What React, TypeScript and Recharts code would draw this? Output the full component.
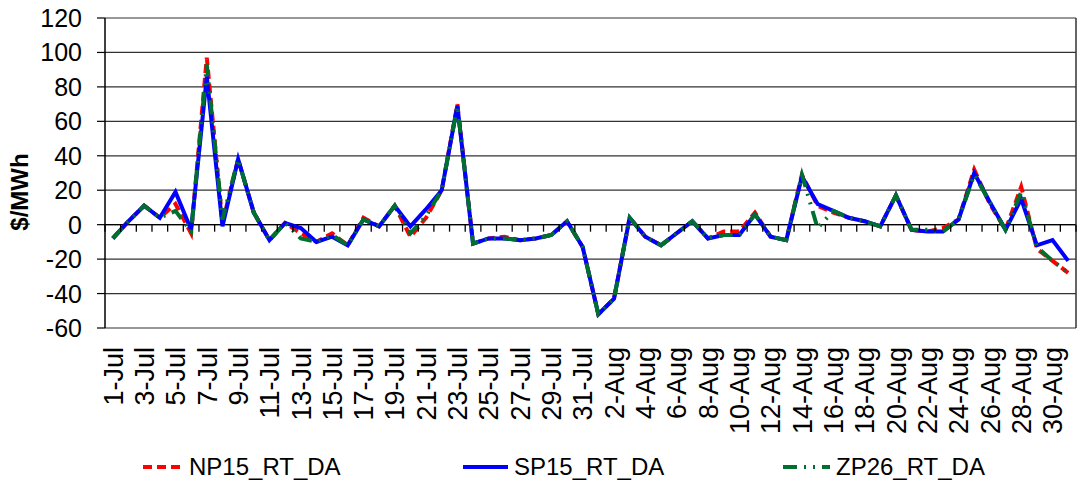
import { CartesianGrid, Line, LineChart, ReferenceLine, XAxis, YAxis } from "recharts";

const W = 1078;
const H = 485;
const PLOT_LEFT = 105;
const PLOT_TOP = 18;
const PLOT_RIGHT = 2;
const PLOT_BOTTOM = 157;
const FONT = "'Liberation Sans', Arial, sans-serif";

const DAYS = [
  "1-Jul", "2-Jul", "3-Jul", "4-Jul", "5-Jul", "6-Jul", "7-Jul", "8-Jul", "9-Jul", "10-Jul",
  "11-Jul", "12-Jul", "13-Jul", "14-Jul", "15-Jul", "16-Jul", "17-Jul", "18-Jul", "19-Jul", "20-Jul",
  "21-Jul", "22-Jul", "23-Jul", "24-Jul", "25-Jul", "26-Jul", "27-Jul", "28-Jul", "29-Jul", "30-Jul",
  "31-Jul", "1-Aug", "2-Aug", "3-Aug", "4-Aug", "5-Aug", "6-Aug", "7-Aug", "8-Aug", "9-Aug",
  "10-Aug", "11-Aug", "12-Aug", "13-Aug", "14-Aug", "15-Aug", "16-Aug", "17-Aug", "18-Aug", "19-Aug",
  "20-Aug", "21-Aug", "22-Aug", "23-Aug", "24-Aug", "25-Aug", "26-Aug", "27-Aug", "28-Aug", "29-Aug",
  "30-Aug", "31-Aug",
];

const NP15 = [
  -8, 2, 11, 4, 12, -5, 97, 1, 38, 7,
  -9, 1, -5, -10, -5, -12, 4, -1, 11, -7,
  4, 20, 70, -11, -8, -7, -9, -8, -6, 2,
  -13, -52, -43, 4, -7, -12, -5, 2, -8, -4,
  -4, 7, -7, -9, 29, 11, 7, 4, 2, -1,
  17, -3, -4, -2, 3, 32, 12, -3, 22, -14,
  -21, -28,
];

const SP15 = [
  -8, 2, 11, 4, 19, -3, 86, -1, 38, 7,
  -9, 1, -2, -10, -7, -12, 3, -1, 11, -1,
  9, 20, 69, -11, -8, -8, -9, -8, -6, 2,
  -13, -52, -43, 4, -7, -12, -5, 2, -8, -6,
  -6, 6, -7, -9, 28, 12, 8, 4, 2, -1,
  17, -3, -4, -4, 3, 30, 13, -3, 15, -12,
  -9, -21,
];

const ZP26 = [
  -8, 2, 11, 4, 8, -4, 93, 3, 38, 7,
  -9, 1, -8, -10, -6, -12, 3, -1, 11, -5,
  5, 20, 69, -11, -8, -8, -9, -8, -6, 2,
  -13, -52, -43, 4, -7, -12, -5, 2, -8, -6,
  -6, 6, -7, -9, 29, -2, 8, 4, 2, -1,
  17, -3, -3, -4, 3, 29, 13, -3, 19, -13,
  -21, -28,
];

const Y_TICKS = [-60, -40, -20, 0, 20, 40, 60, 80, 100, 120];
const Y_MIN = -60;
const Y_MAX = 120;

// drawn in this order: green on top of blue on top of red
const SERIES = [
  { key: "np15", name: "NP15_RT_DA", color: "#ff0000", dash: "9 5", values: NP15, legendX: 143, iconW: 40 },
  { key: "sp15", name: "SP15_RT_DA", color: "#0000ff", dash: undefined, values: SP15, legendX: 463, iconW: 45 },
  { key: "zp26", name: "ZP26_RT_DA", color: "#00702e", dash: "14 7 2 7 2 7", values: ZP26, legendX: 783, iconW: 47 },
];

const rows = DAYS.map((day, i) => {
  const row: Record<string, string | number> = { day };
  for (const s of SERIES) row[s.key] = s.values[i];
  return row;
});

const plotW = W - PLOT_LEFT - PLOT_RIGHT;
const plotH = H - PLOT_TOP - PLOT_BOTTOM;
const band = plotW / DAYS.length;
// category axis crosses the value axis at 0, labels sit below the plot
const zeroY = PLOT_TOP + (plotH * Y_MAX) / (Y_MAX - Y_MIN);
const plotBottomY = PLOT_TOP + plotH;

function DayTick(props: any) {
  const { x, payload, index } = props;
  const left = x - band / 2;
  return (
    <g>
      <line x1={left} x2={left} y1={zeroY} y2={zeroY + 7} stroke="#000" strokeWidth={1.3} />
      {index === DAYS.length - 1 && (
        <line x1={x + band / 2} x2={x + band / 2} y1={zeroY} y2={zeroY + 7} stroke="#000" strokeWidth={1.3} />
      )}
      {index % 2 === 0 && (
        <text
          transform={`translate(${x},${plotBottomY + 19}) rotate(-90)`}
          textAnchor="end"
          dy="0.36em"
          style={{ fontSize: 27, fontFamily: FONT }}
          fill="#000"
        >
          {payload.value}
        </text>
      )}
    </g>
  );
}

function ValueTick(props: any) {
  const { x, y, payload } = props;
  return (
    <text
      x={x}
      y={y}
      textAnchor="end"
      dy="0.36em"
      style={{ fontSize: 25, fontFamily: FONT }}
      fill="#000"
    >
      {payload.value}
    </text>
  );
}

function Legend() {
  return (
    <>
      {SERIES.map((s) => (
        <div
          key={s.key}
          style={{
            position: "absolute",
            left: s.legendX,
            top: 452,
            height: 30,
            display: "flex",
            alignItems: "center",
            fontFamily: FONT,
            fontSize: 24,
            color: "#000",
            whiteSpace: "nowrap",
          }}
        >
          <svg width={s.iconW} height={10} style={{ marginRight: 6 }}>
            <line
              x1={0}
              x2={s.iconW}
              y1={5}
              y2={5}
              stroke={s.color}
              strokeWidth={4}
              strokeDasharray={s.dash}
            />
          </svg>
          {s.name}
        </div>
      ))}
    </>
  );
}

export default function App() {
  return (
    <div style={{ position: "absolute", left: 0, top: 0, width: W, height: H, background: "#fff" }}>
      <LineChart
        width={W}
        height={H}
        data={rows}
        margin={{ top: PLOT_TOP, right: 0, bottom: 0, left: 0 }}
      >
        <CartesianGrid vertical={false} stroke="#333" strokeWidth={1.2} yAxisId="left" />
        <XAxis
          dataKey="day"
          interval={0}
          height={PLOT_BOTTOM}
          padding={{ left: band / 2, right: band / 2 }}
          tick={<DayTick />}
          tickLine={false}
          axisLine={false}
        />
        <YAxis
          yAxisId="left"
          domain={[Y_MIN, Y_MAX]}
          ticks={Y_TICKS}
          interval={0}
          width={PLOT_LEFT}
          tickSize={8}
          tickMargin={15}
          tick={<ValueTick />}
          tickLine={{ stroke: "#000", strokeWidth: 1.2 }}
          axisLine={{ stroke: "#000", strokeWidth: 1.5 }}
          label={{
            content: () => (
              <text
                transform="translate(19,192) rotate(-90)"
                textAnchor="middle"
                dy="0.36em"
                style={{ fontSize: 24, fontWeight: "bold", fontFamily: FONT }}
                fill="#000"
              >
                $/MWh
              </text>
            ),
          }}
        />
        <YAxis
          yAxisId="right"
          orientation="right"
          domain={[Y_MIN, Y_MAX]}
          width={PLOT_RIGHT}
          tick={false}
          tickLine={false}
          axisLine={{ stroke: "#333", strokeWidth: 1.5 }}
        />
        <ReferenceLine yAxisId="left" y={0} stroke="#000" strokeWidth={1.3} />
        {SERIES.map((s) => (
          <Line
            key={s.key}
            yAxisId="left"
            type="linear"
            dataKey={s.key}
            name={s.name}
            stroke={s.color}
            strokeWidth={4}
            strokeDasharray={s.dash}
            dot={false}
            activeDot={false}
            isAnimationActive={false}
          />
        ))}
      </LineChart>
      <Legend />
    </div>
  );
}
